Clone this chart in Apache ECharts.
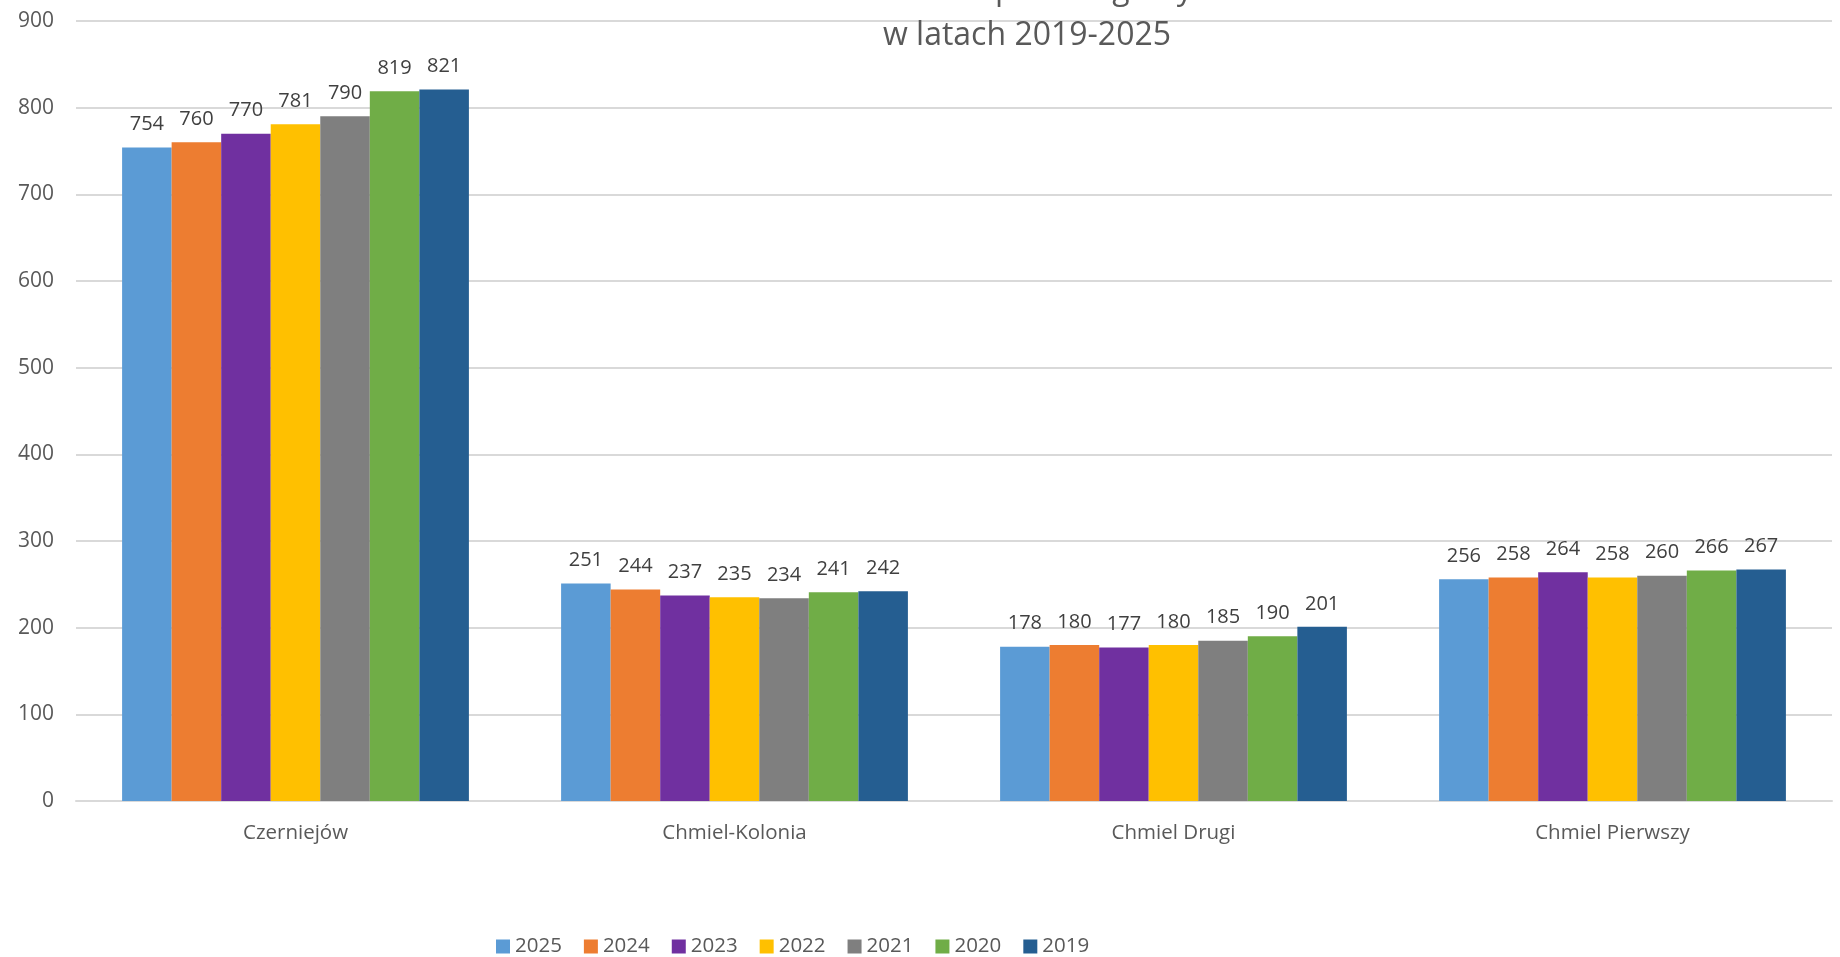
<!DOCTYPE html>
<html>
<head>
<meta charset="utf-8">
<script src="https://cdn.jsdelivr.net/npm/echarts@6/dist/echarts.min.js"></script>
<style>
html,body{margin:0;padding:0;background:#fff;}
#chart{width:1840px;height:957px;}
</style>
</head>
<body>
<div id="chart"></div>
<script>
const categories = ['Czerniejów', 'Chmiel-Kolonia', 'Chmiel Drugi', 'Chmiel Pierwszy'];
const years = ['2025', '2024', '2023', '2022', '2021', '2020', '2019'];
const v2025 = [754, 251, 178, 256];
const v2024 = [760, 244, 180, 258];
const v2023 = [770, 237, 177, 264];
const v2022 = [781, 235, 180, 258];
const v2021 = [790, 234, 185, 260];
const v2020 = [819, 241, 190, 266];
const v2019 = [821, 242, 201, 267];
const yTicks = [0, 100, 200, 300, 400, 500, 600, 700, 800, 900];
const titleText = 'Liczba mieszkańców w poszczególnych sołectwach\nw latach 2019-2025';

const seriesValues = [v2025, v2024, v2023, v2022, v2021, v2020, v2019];
const colors = ['#5B9BD5', '#ED7D31', '#7030A0', '#FFC000', '#7F7F7F', '#70AD47', '#255E91'];
const FONT = '"Open Sans", "Noto Sans", sans-serif';

const chart = echarts.init(document.getElementById('chart'));
chart.setOption({
  animation: false,
  title: {
    text: titleText,
    left: 1027,
    top: -33,
    textAlign: 'center',
    padding: 0,
    textStyle: { fontFamily: FONT, fontSize: 32, fontWeight: 'normal', color: '#595959', lineHeight: 46 }
  },
  legend: {
    data: years,
    left: 496,
    top: 936,
    icon: 'rect',
    itemWidth: 14,
    itemHeight: 14,
    itemGap: 22,
    padding: 0,
    textStyle: { fontFamily: FONT, fontSize: 20.5, color: '#595959', padding: [0, 0, 0, 0] }
  },
  grid: { left: 76, right: 8, top: 21, bottom: 156, containLabel: false },
  xAxis: {
    type: 'category',
    data: categories,
    axisLine: { lineStyle: { color: '#D9D9D9', width: 2 } },
    axisTick: { show: false },
    axisLabel: { fontFamily: FONT, fontSize: 20.5, color: '#595959', margin: 22 }
  },
  yAxis: {
    type: 'value',
    min: yTicks[0],
    max: yTicks[yTicks.length - 1],
    interval: 100,
    axisLine: { show: false },
    axisTick: { show: false },
    splitLine: { lineStyle: { color: '#D9D9D9', width: 2 } },
    axisLabel: { fontFamily: FONT, fontSize: 21, color: '#595959', margin: 22 }
  },
  series: years.map((y, i) => ({
    name: y,
    type: 'bar',
    data: seriesValues[i],
    barGap: '0%',
    barCategoryGap: '21%',
    itemStyle: { color: colors[i] },
    label: {
      show: true,
      position: 'top',
      distance: 13,
      fontFamily: FONT,
      fontSize: 20,
      color: '#404040'
    }
  }))
});
</script>
</body>
</html>
